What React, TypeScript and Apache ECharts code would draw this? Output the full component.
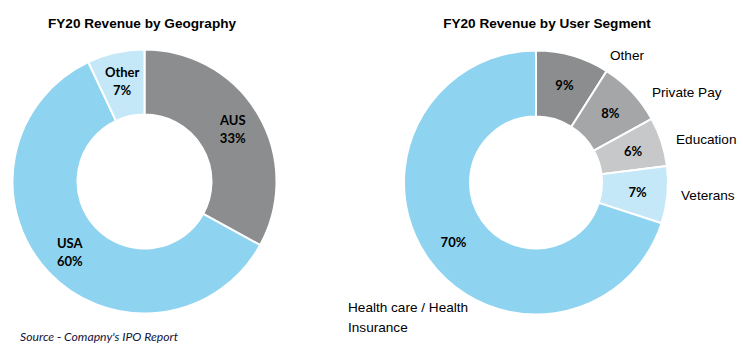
import React, { useEffect, useRef } from "react";
import * as echarts from "echarts";

const geoNames = ["AUS", "USA", "Other"];
const geoValues = [33, 60, 7];
const geoColors = ["#8b8d8e", "#8ed3ef", "#c4e8f7"];

const segNames = ["Other", "Private Pay", "Education", "Veterans", "Health care / Health\nInsurance"];
const segValues = [9, 8, 6, 7, 70];
const segColors = ["#8b8d8e", "#a4a6a7", "#c7c8c9", "#c4e8f7", "#8ed3ef"];

const titles = ["FY20 Revenue by Geography", "FY20 Revenue by User Segment"];
const sourceText = "Source - Comapny's IPO Report";

// layout of outside labels of the segment donut (left edge x, middle y)
const segLabelPos = [
  [610, 55],
  [652, 92],
  [676, 139],
  [681, 195],
  [348, 317],
];

export default function App() {
  const ref = useRef<HTMLDivElement>(null);
  useEffect(() => {
    if (!ref.current) return;
    const chart = echarts.init(ref.current, null, { renderer: "svg" });
    const pctLabel = {
      show: true,
      position: "inside",
      fontFamily: "Lato",
      fontWeight: "bold",
      fontSize: 13,
      color: "#000",
      lineHeight: 18,
    };
    chart.setOption({
      animation: false,
      backgroundColor: "#ffffff",
      graphic: [
        {
          type: "text",
          x: 142,
          y: 23,
          style: {
            text: titles[0],
            fontFamily: "Liberation Sans",
            fontWeight: "bold",
            fontSize: 13.6,
            fill: "#000",
            align: "center",
            verticalAlign: "middle",
          },
        },
        {
          type: "text",
          x: 547,
          y: 23,
          style: {
            text: titles[1],
            fontFamily: "Liberation Sans",
            fontWeight: "bold",
            fontSize: 13.6,
            fill: "#000",
            align: "center",
            verticalAlign: "middle",
          },
        },
        {
          type: "text",
          x: 20,
          y: 336,
          style: {
            text: sourceText,
            fontFamily: "Lato",
            fontStyle: "italic",
            fontSize: 12.2,
            fill: "#14143a",
            align: "left",
            verticalAlign: "middle",
          },
        },
      ],
      series: [
        {
          type: "pie",
          center: [144.5, 181.5],
          radius: [67, 132],
          startAngle: 90,
          clockwise: true,
          avoidLabelOverlap: false,
          itemStyle: { borderColor: "#ffffff", borderWidth: 2 },
          label: {
            ...pctLabel,
            formatter: (p: any) => `${p.name}\n${p.value}%`,
          },
          labelLine: { show: false },
          emphasis: { disabled: true },
          data: geoNames.map((n, i) => ({
            name: n,
            value: geoValues[i],
            itemStyle: { color: geoColors[i] },
          })),
        },
        {
          type: "pie",
          center: [536, 182.5],
          radius: [66, 132],
          startAngle: 90,
          clockwise: true,
          avoidLabelOverlap: false,
          itemStyle: { borderColor: "#ffffff", borderWidth: 2 },
          label: {
            ...pctLabel,
            formatter: (p: any) => `${p.value}%`,
          },
          labelLine: { show: false },
          emphasis: { disabled: true },
          data: segNames.map((n, i) => ({
            name: n,
            value: segValues[i],
            itemStyle: { color: segColors[i] },
          })),
        },
        {
          type: "pie",
          center: [536, 182.5],
          radius: [66, 132],
          startAngle: 90,
          clockwise: true,
          silent: true,
          avoidLabelOverlap: false,
          itemStyle: { color: "rgba(0,0,0,0)" },
          label: {
            show: true,
            position: "outside",
            fontFamily: "Liberation Sans",
            fontSize: 13.6,
            color: "#000",
            lineHeight: 20,
            formatter: (p: any) => p.name,
          },
          labelLine: { show: false },
          labelLayout: (p: any) => ({
            x: segLabelPos[p.dataIndex][0],
            y: segLabelPos[p.dataIndex][1],
            align: "left",
            verticalAlign: "middle",
          }),
          emphasis: { disabled: true },
          data: segNames.map((n, i) => ({ name: n, value: segValues[i] })),
        },
      ],
    });
    return () => chart.dispose();
  }, []);
  return (
    <div
      ref={ref}
      style={{ position: "fixed", left: 0, top: 0, width: 743, height: 353 }}
    />
  );
}
